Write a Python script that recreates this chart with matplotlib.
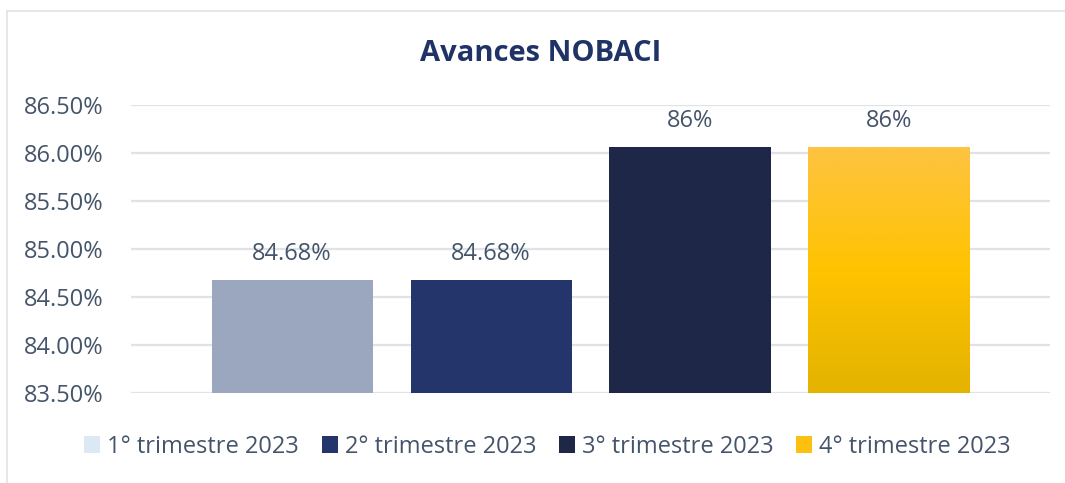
import numpy as np
import matplotlib.pyplot as plt
from matplotlib.patches import Patch
from matplotlib.colors import LinearSegmentedColormap

# data
series = ['1° trimestre 2023', '2° trimestre 2023', '3° trimestre 2023', '4° trimestre 2023']
values = [84.68, 84.68, 86.06, 86.06]
value_labels = ['84.68%', '84.68%', '86%', '86%']
yticks = [83.5, 84.0, 84.5, 85.0, 85.5, 86.0, 86.5]

bar_colors = ['#9aa7bf', '#23356a', '#1f2748', '#fcc010']
legend_colors = ['#dde8f5', '#23356a', '#1f2748', '#fcc010']
text_color = '#44546a'
grid_color = '#dfe3e8'

plt.rcParams['font.family'] = ['Open Sans', 'DejaVu Sans']

fig = plt.figure(figsize=(10.65, 4.83), dpi=100)
ax = fig.add_axes([0.123, 0.1863, 0.863, 0.5963])

x = np.arange(len(values))
width = 0.81
bars = ax.bar(x, [v - yticks[0] for v in values], width, bottom=yticks[0],
              color=bar_colors, zorder=3)

# gradient fill for the last bar
gold = LinearSegmentedColormap.from_list('gold', ['#e3b300', '#ffc300', '#fec341'])
last = bars[-1]
grad = np.linspace(0, 1, 256).reshape(-1, 1)
bx, by = last.get_x(), last.get_y()
im = ax.imshow(grad, cmap=gold, aspect='auto', origin='lower', zorder=4,
               extent=[bx, bx + last.get_width(), by, by + last.get_height()])
im.set_clip_path(last)

for xi, v, lab in zip(x, values, value_labels):
    ax.annotate(lab, (xi, v), xytext=(0, 10), textcoords='offset points',
                ha='center', va='bottom', fontsize=17, color=text_color, zorder=5)

ax.set_xlim(-0.81, 3.81)
ax.set_ylim(yticks[0], yticks[-1])
ax.set_yticks(yticks)
ax.set_yticklabels([f'{t:.2f}%' for t in yticks], fontsize=17, color=text_color)
ax.set_xticks([])
ax.tick_params(axis='y', length=0, pad=19.5)
ax.yaxis.grid(True, color=grid_color, linewidth=1.6, zorder=0)
for s in ax.spines.values():
    s.set_visible(False)

fig.text(0.508, 0.89, 'Avances NOBACI', ha='center', va='center',
         fontsize=21, fontweight='bold', color='#1f3366')

handles = [Patch(facecolor=c, edgecolor='none') for c in legend_colors]
fig.legend(handles, series, loc='center', bbox_to_anchor=(0.514, 0.075), ncol=4,
           frameon=False, fontsize=17, labelcolor=text_color,
           handlelength=0.68, handleheight=0.68, handletextpad=0.3,
           columnspacing=0.95)

# outer frame (top and left only visible)
fig.add_artist(plt.Line2D([7 / 1065, 1], [1 - 11 / 483, 1 - 11 / 483],
                          color='#dfe3e8', linewidth=1.2))
fig.add_artist(plt.Line2D([7 / 1065, 7 / 1065], [0, 1 - 11 / 483],
                          color='#dfe3e8', linewidth=1.2))

fig.savefig('out.png', dpi=100)
